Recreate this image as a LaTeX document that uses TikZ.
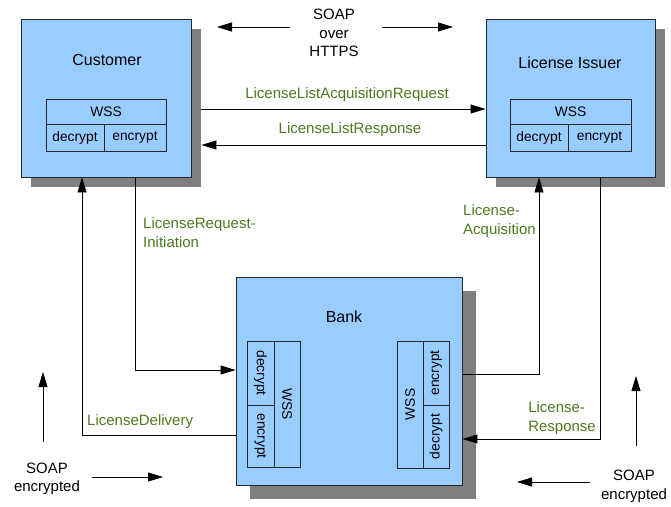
\documentclass[tikz,border=0pt]{standalone}
\usepackage{fontspec}
\setmainfont{Liberation Sans}
\usetikzlibrary{arrows.meta,shadows}

\definecolor{boxblue}{HTML}{99CCFF}
\definecolor{msggreen}{HTML}{4B7A1E}

\tikzset{
  party/.style={draw=black!85, line width=0.8pt, fill=boxblue, inner sep=0pt,
    drop shadow={shadow xshift=#1pt, shadow yshift=-#1pt, fill=black!50, opacity=1}},
  party/.default=10,
  title/.style={inner sep=0pt, font=\fontsize{16}{18}\selectfont},
  cell/.style={draw=black!85, line width=0.8pt, fill=boxblue, inner sep=0pt,
    font=\fontsize{13.8}{16}\selectfont},
  msg/.style={inner sep=0pt, text=msggreen, align=left,
    font=\fontsize{15}{19}\selectfont},
  note/.style={inner sep=0pt, align=center, font=\fontsize{15}{18.5}\selectfont},
  conn/.style={-{Triangle[length=15pt,width=9pt]}, line width=0.8pt}
}

\begin{document}
\begin{tikzpicture}[x=1pt, y=-1pt]
  \useasboundingbox (0,0) rectangle (671,506);

  % parties
  \node[party, minimum width=170pt, minimum height=158pt] (cust) at (106,98) {};
  \node[party, minimum width=169pt, minimum height=158pt] (issuer) at (570.5,98) {};
  \node[party=14, minimum width=226pt, minimum height=208pt] (bank) at (349,381) {};

  \node[title] (custT) at (107,60) {Customer};
  \node[title] (issuerT) at (570,63) {License Issuer};
  \node[title] (bankT) at (344,317) {Bank};

  % WSS of customer
  \node[cell, minimum width=120pt, minimum height=25pt] (custW) at (106,111.5) {WSS};
  \node[cell, minimum width=58pt, minimum height=27pt] (custD) at (75,137.5) {decrypt};
  \node[cell, minimum width=62pt, minimum height=27pt] (custE) at (135,137.5) {encrypt};

  % WSS of license issuer
  \node[cell, minimum width=121pt, minimum height=25pt] (issuerW) at (570.5,111.5) {WSS};
  \node[cell, minimum width=58pt, minimum height=27pt] (issuerD) at (539,137.5) {decrypt};
  \node[cell, minimum width=63pt, minimum height=27pt] (issuerE) at (599.5,137.5) {encrypt};

  % WSS of bank, left side
  \node[cell, rotate=-90, minimum width=64pt, minimum height=27pt] (bankLD) at (260.5,373) {decrypt};
  \node[cell, rotate=-90, minimum width=62pt, minimum height=27pt] (bankLE) at (260.5,436) {encrypt};
  \node[cell, rotate=-90, minimum width=126pt, minimum height=26pt] (bankLW) at (287,404) {WSS};

  % WSS of bank, right side
  \node[cell, rotate=90, minimum width=127pt, minimum height=26pt] (bankRW) at (410,404.5) {WSS};
  \node[cell, rotate=90, minimum width=64pt, minimum height=26pt] (bankRE) at (436,373) {encrypt};
  \node[cell, rotate=90, minimum width=63pt, minimum height=26pt] (bankRD) at (436,436.5) {decrypt};

  % shadow edge of customer
  \coordinate (custR) at ([xshift=10pt]cust.east);

  % messages
  \draw[conn] (custR |- 0,109) -- (issuer.west |- 0,109);
  \node[msg] (reqL) at (347,95) {LicenseListAcquisitionRequest};

  \draw[conn] (issuer.west |- 0,145) -- (custR |- 0,145);
  \node[msg] (respL) at (350,130) {LicenseListResponse};

  \draw[conn] (cust.south -| 135,0) |- (bank.west |- 0,370);
  \node[msg, anchor=west] (initL) at (143,232.5) {LicenseRequest-\\Initiation};

  \draw[conn] (bank.west |- 0,435) -| (cust.south -| 82,0);
  \node[msg, anchor=west] (delivL) at (87,422) {LicenseDelivery};

  \draw[conn] (bank.east |- 0,374) -| (issuer.south -| 539,0);
  \node[msg, anchor=west] (acqL) at (463,221.5) {License-\\Acquisition};

  \draw[conn] (issuer.south -| 600,0) |- (bank.east |- 0,439);
  \node[msg, anchor=east] (lrespL) at (596,418.5) {License-\\Response};

  % transport notes
  \node[note] (soapTop) at (334,33) {SOAP\\over\\HTTPS};
  \draw[conn] (290,27) -- (217,27);
  \draw[conn] (382,27) -- (453,27);

  \node[note] (soapL) at (47,479) {SOAP\\encrypted};
  \draw[conn] (43,442) -- (43,372);
  \draw[conn] (92,477) -- (163,477);

  \node[note] (soapR) at (634,486.5) {SOAP\\encrypted};
  \draw[conn] (636,446) -- (636,376);
  \draw[conn] (590,482) -- (517,482);
\end{tikzpicture}
\end{document}
